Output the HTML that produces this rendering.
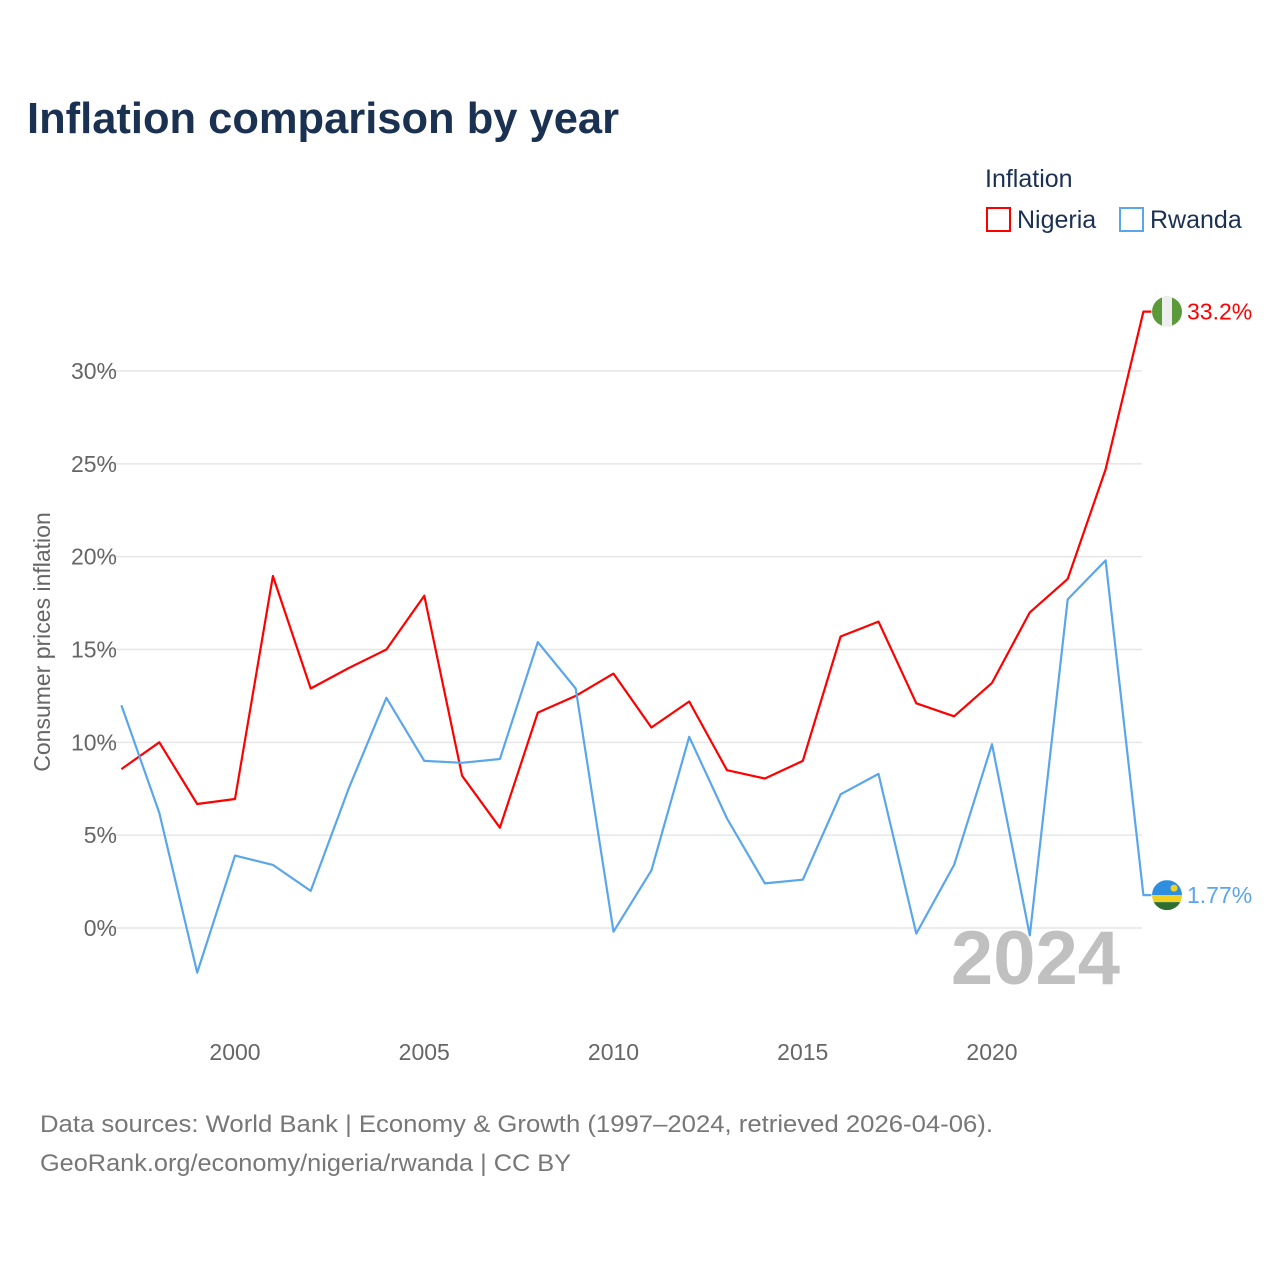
<!DOCTYPE html>
<html><head><meta charset="utf-8">
<style>
body{margin:0;background:#fff;}
svg{display:block;font-family:"Liberation Sans",sans-serif;}
</style></head>
<body>
<svg id="chart" width="1280" height="1280" viewBox="0 0 1280 1280">
<text x="27" y="133" font-size="44" font-weight="bold" fill="#1a3151" textLength="592" lengthAdjust="spacingAndGlyphs">Inflation comparison by year</text>
<g>
<text x="985" y="187" font-size="25" fill="#1a3151">Inflation</text>
<g>
<rect x="987" y="208" width="23" height="23" fill="none" stroke="#ff0000" stroke-width="2"/>
<text x="1017" y="228" font-size="25" fill="#1a3151">Nigeria</text></g>
<g>
<rect x="1120" y="208" width="23" height="23" fill="none" stroke="#5aa6ea" stroke-width="2"/>
<text x="1150" y="228" font-size="25" fill="#1a3151">Rwanda</text></g>
</g>
<text transform="translate(50,642) rotate(-90)" text-anchor="middle" font-size="23" fill="#666">Consumer prices inflation</text>
<g id="grid"></g>
<g id="yticks"></g>
<g id="xticks"></g>
<text x="1120" y="984" text-anchor="end" font-size="76" font-weight="bold" fill="#c0c0c0">2024</text>
<g id="series"></g>
<text x="40" y="1132" font-size="24" fill="#777" textLength="953" lengthAdjust="spacingAndGlyphs">Data sources: World Bank | Economy &amp; Growth (1997–2024, retrieved 2026-04-06).</text>
<text x="40" y="1171" font-size="24" fill="#777" textLength="531" lengthAdjust="spacingAndGlyphs">GeoRank.org/economy/nigeria/rwanda | CC BY</text>
</svg>
<script>
const years=[1997,1998,1999,2000,2001,2002,2003,2004,2005,2006,2007,2008,2009,2010,2011,2012,2013,2014,2015,2016,2017,2018,2019,2020,2021,2022,2023,2024];
const nigeria=[8.56,10.0,6.68,6.95,18.96,12.9,14.0,15.0,17.9,8.2,5.4,11.6,12.5,13.7,10.8,12.2,8.5,8.05,9.0,15.7,16.5,12.1,11.4,13.2,17.0,18.8,24.7,33.2];
const rwanda=[12.0,6.2,-2.4,3.9,3.4,2.0,7.5,12.4,9.0,8.9,9.1,15.4,12.9,-0.2,3.1,10.3,5.9,2.4,2.6,7.2,8.3,-0.3,3.4,9.9,-0.4,17.7,19.8,1.77];
const yTickVals=[0,5,10,15,20,25,30];
const xTickVals=[2000,2005,2010,2015,2020];
const NS="http://www.w3.org/2000/svg";
const x=v=>235+(v-2000)*37.85;
const y=v=>928-v*18.567;
function mk(tag,attrs,parent){const e=document.createElementNS(NS,tag);for(const k in attrs)e.setAttribute(k,attrs[k]);parent.appendChild(e);return e;}
const grid=document.getElementById('grid'),yt=document.getElementById('yticks'),xt=document.getElementById('xticks'),ser=document.getElementById('series');
yTickVals.forEach(v=>{
 const l=mk('line',{x1:100,x2:1142,y1:y(v),y2:y(v),stroke:'#e6e6e6','stroke-width':1.5},grid);
 
 
 const t=mk('text',{x:117,y:y(v)+8,'text-anchor':'end','font-size':23,fill:'#666'},yt);
 t.textContent=v+'%';
 
 
});
xTickVals.forEach(v=>{
 const t=mk('text',{x:x(v),y:1060,'text-anchor':'middle','font-size':23,fill:'#666'},xt);
 t.textContent=v;
 
 
});
function line(vals,color,name,label){
 const last=vals[vals.length-1];
 let d=vals.map((v,i)=>(i?'L':'M')+x(years[i]).toFixed(1)+','+y(v).toFixed(1)).join(' ');
 d+=' L'+(x(years[years.length-1])+8).toFixed(1)+','+y(last).toFixed(1);
 const p=mk('path',{d:d,fill:'none',stroke:color,'stroke-width':2.2,'stroke-linejoin':'round'},ser);
 
 
 const t=mk('text',{x:1187,y:y(last)+8,'font-size':23,fill:color},ser);
 t.textContent=label;
 
 
 return y(last);
}
const ny=line(nigeria,'#ff0000','nigeria','33.2%');
const ry=line(rwanda,'#5aa6ea','rwanda','1.77%');
const fn=mk('g',{},ser);


mk('defs',{},fn).innerHTML='<clipPath id="cn"><circle cx="1167" cy="'+ny+'" r="15"/></clipPath><clipPath id="cr"><circle cx="1167" cy="'+ry+'" r="15"/></clipPath>';
const gn=mk('g',{'clip-path':'url(#cn)'},fn);
mk('rect',{x:1152,y:ny-15,width:30,height:30,fill:'#5a9a3a'},gn);
mk('rect',{x:1162,y:ny-15,width:10,height:30,fill:'#eee'},gn);
const fr=mk('g',{},ser);


const gr=mk('g',{'clip-path':'url(#cr)'},fr);
mk('rect',{x:1152,y:ry-15,width:30,height:15,fill:'#2f8ee0'},gr);
mk('rect',{x:1152,y:ry,width:30,height:7,fill:'#f0d020'},gr);
mk('rect',{x:1152,y:ry+7,width:30,height:8,fill:'#2e6e2e'},gr);
mk('circle',{cx:1174,cy:ry-7,r:3.5,fill:'#f0d020'},gr);
</script>
</body></html>
